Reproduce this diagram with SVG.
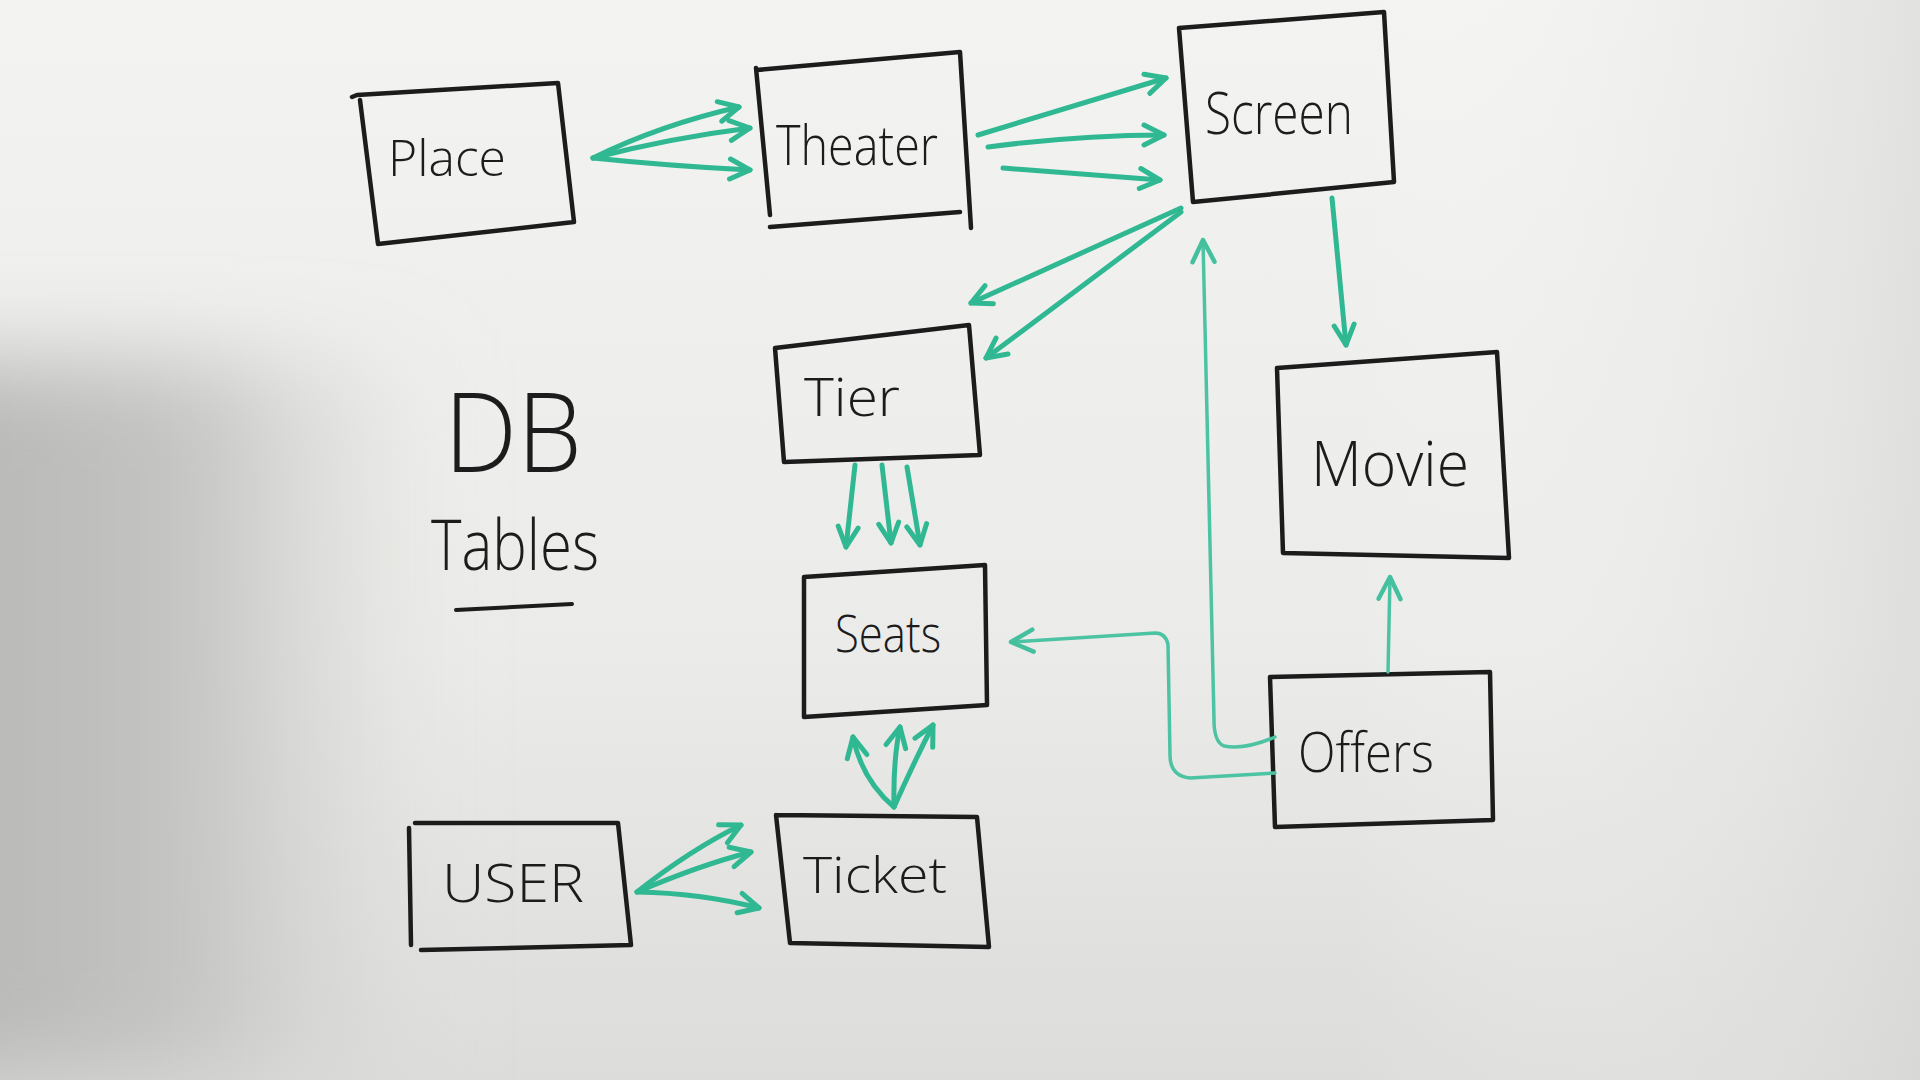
<svg xmlns="http://www.w3.org/2000/svg" width="1920" height="1080" viewBox="0 0 1920 1080">
<defs>
<linearGradient id="bgV" x1="0" y1="0" x2="0" y2="1">
<stop offset="0" stop-color="#f3f3f1"/>
<stop offset="0.6" stop-color="#ebebe9"/>
<stop offset="1" stop-color="#dcdcda"/>
</linearGradient>
<linearGradient id="bgR" x1="0" y1="0" x2="1" y2="0">
<stop offset="0.7" stop-color="#ffffff" stop-opacity="0"/>
<stop offset="1" stop-color="#d6d6d4" stop-opacity="0.6"/>
</linearGradient>
<linearGradient id="shadeH" x1="0" y1="0" x2="1" y2="0">
<stop offset="0" stop-color="#b4b4b2"/>
<stop offset="0.55" stop-color="#c4c4c2"/>
<stop offset="1" stop-color="#d8d8d6" stop-opacity="0"/>
</linearGradient>
<filter id="blur" x="-50%" y="-50%" width="200%" height="200%">
<feGaussianBlur stdDeviation="45"/>
</filter>
<marker id="ah" markerUnits="userSpaceOnUse" markerWidth="30" markerHeight="30" viewBox="0 0 30 30" refX="26" refY="15" orient="auto">
<path d="M6,5 L26,15 L6,25" fill="none" stroke="#2fb892" stroke-width="5" stroke-linecap="round" stroke-linejoin="round"/>
</marker>
<marker id="ahs" markerUnits="userSpaceOnUse" markerWidth="34" markerHeight="34" viewBox="0 0 34 34" refX="30" refY="17" orient="auto">
<path d="M8,6 L30,17 L8,28" fill="none" stroke="#45c09e" stroke-width="4.5" stroke-linecap="round" stroke-linejoin="round"/>
</marker>
</defs>
<style>
.box{fill:none;stroke:#1c1c1c;stroke-width:4.5;stroke-linejoin:round;stroke-linecap:round}
.lbl{font-family:"Open Sans","DejaVu Sans",sans-serif;fill:#1c1c1c;font-weight:300}
.ar{fill:none;stroke:#2fb892;stroke-width:5;stroke-linecap:round;marker-end:url(#ah)}
.ar2{fill:none;stroke:#4cc3a2;stroke-width:3.5;stroke-linecap:round;marker-end:url(#ahs)}
</style>
<rect x="0" y="0" width="1920" height="1080" fill="url(#bgV)"/>
<rect x="0" y="0" width="1920" height="1080" fill="url(#bgR)"/>
<rect x="-120" y="360" width="560" height="720" fill="url(#shadeH)" filter="url(#blur)"/>

<g id="label-db">
<text class="lbl" x="444" y="472" font-size="110" textLength="138" lengthAdjust="spacingAndGlyphs">DB</text>
<text class="lbl" x="431" y="570" font-size="70" textLength="168" lengthAdjust="spacingAndGlyphs">Tables</text>
<path d="M456,610 L572,604" fill="none" stroke="#1c1c1c" stroke-width="4" stroke-linecap="round"/>
</g>

<g id="node-place">
<path class="box" d="M352,97 L357,95 L558,83 L574,222 L378,244 L360,100"/>
<text class="lbl" x="388" y="176" font-size="50" textLength="118" lengthAdjust="spacingAndGlyphs">Place</text>
</g>
<g id="node-theater">
<path class="box" d="M757,70 L960,52 L971,228 M756,68 L770,215 M770,227 L960,212"/>
<text class="lbl" x="776" y="165" font-size="56" textLength="162" lengthAdjust="spacingAndGlyphs">Theater</text>
</g>
<g id="node-screen">
<path class="box" d="M1179,28 L1384,12 L1394,182 L1193,202 L1179,28"/>
<text class="lbl" x="1205" y="134" font-size="58" textLength="148" lengthAdjust="spacingAndGlyphs">Screen</text>
</g>
<g id="node-tier">
<path class="box" d="M775,348 L969,325 L980,455 L784,462 L775,348"/>
<text class="lbl" x="804" y="416" font-size="54" textLength="96" lengthAdjust="spacingAndGlyphs">Tier</text>
</g>
<g id="node-movie">
<path class="box" d="M1277,368 L1497,352 L1509,558 L1283,553 L1277,368"/>
<text class="lbl" x="1311" y="486" font-size="62" textLength="158" lengthAdjust="spacingAndGlyphs">Movie</text>
</g>
<g id="node-seats">
<path class="box" d="M804,577 L985,565 L987,705 L804,717 L804,577"/>
<text class="lbl" x="835" y="652" font-size="52" textLength="106" lengthAdjust="spacingAndGlyphs">Seats</text>
</g>
<g id="node-offers">
<path class="box" d="M1270,677 L1490,672 L1493,820 L1275,827 L1270,677"/>
<text class="lbl" x="1298" y="772" font-size="56" textLength="136" lengthAdjust="spacingAndGlyphs">Offers</text>
</g>
<g id="node-user">
<path class="box" d="M415,823 L618,823 L631,945 L421,950 M409,828 L411,945"/>
<text class="lbl" x="442" y="902" font-size="54" textLength="142" lengthAdjust="spacingAndGlyphs">USER</text>
</g>
<g id="node-ticket">
<path class="box" d="M776,815 L977,817 L989,947 L790,943 L776,815"/>
<text class="lbl" x="803" y="893" font-size="50" textLength="144" lengthAdjust="spacingAndGlyphs">Ticket</text>
</g>

<g id="connectors">
<path class="ar" d="M593,158 Q660,125 739,107"/>
<path class="ar" d="M593,158 Q670,138 750,128"/>
<path class="ar" d="M593,158 Q670,166 750,170"/>
<path class="ar" d="M978,135 L1166,78"/>
<path class="ar" d="M988,147 Q1080,135 1164,135"/>
<path class="ar" d="M1003,168 L1160,180"/>
<path class="ar" d="M1181,208 L971,303"/>
<path class="ar" d="M1181,212 L986,358"/>
<path class="ar" d="M1332,198 L1346,345"/>
<path class="ar" d="M855,465 L846,547"/>
<path class="ar" d="M882,465 L891,543"/>
<path class="ar" d="M907,467 L920,545"/>
<path class="ar" d="M894,807 Q862,780 853,737"/>
<path class="ar" d="M894,807 Q893,760 900,727"/>
<path class="ar" d="M894,807 Q915,760 933,725"/>
<path class="ar" d="M637,892 Q690,850 741,825"/>
<path class="ar" d="M637,892 Q700,865 751,852"/>
<path class="ar" d="M637,892 Q700,893 759,908"/>
<path class="ar2" d="M1275,737 Q1245,750 1224,746 Q1214,742 1214,720 L1203,240"/>
<path class="ar2" d="M1275,773 L1190,778 Q1170,776 1170,755 L1168,645 Q1166,633 1155,633 L1011,642"/>
<path class="ar2" d="M1388,672 L1390,577"/>
</g>
</svg>
